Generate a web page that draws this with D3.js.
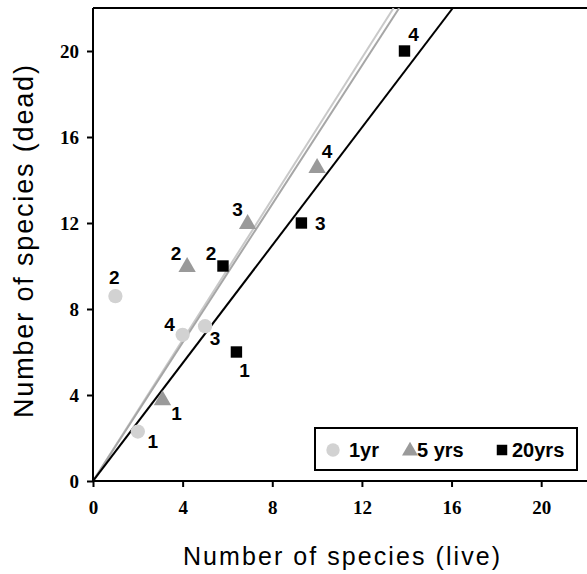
<!DOCTYPE html>
<html><head><meta charset="utf-8">
<script src="https://cdn.jsdelivr.net/npm/d3@7"></script>
<style>body{margin:0;background:#fff}svg{display:block}</style>
</head><body>
<svg id="c" width="587" height="574"></svg>
<script>
const seriesNames = ["1yr", "5 yrs", "20yrs"];
const liveX1yr = [2.0, 1.0, 5.0, 4.0];
const deadY1yr = [2.3, 8.6, 7.2, 6.8];
const labels1yr = ["1", "2", "3", "4"];
const liveX5yrs = [3.1, 4.2, 6.9, 10.0];
const deadY5yrs = [3.8, 10.0, 12.0, 14.6];
const labels5yrs = ["1", "2", "3", "4"];
const liveX20yrs = [6.4, 5.8, 9.3, 13.9];
const deadY20yrs = [6.0, 10.0, 12.0, 20.0];
const labels20yrs = ["1", "2", "3", "4"];
const slopes = [1.64, 1.61, 1.37];
const xTicks = [0, 4, 8, 12, 16, 20];
const yTicks = [0, 4, 8, 12, 16, 20];

// label offsets (px) -- styling only
const lblOff = [
  [[15, 10], [-1, -19], [10, 12], [-13, -10]],
  [[14, 14], [-11, -13], [-10, -14], [10, -16]],
  [[8, 18], [-12, -13], [19, 0], [9, -17]]
];
const colors = ["#d2d2d2", "#9a9a9a", "#000000"];
const lineColors = ["#c9c9c9", "#a6a6a6", "#000000"];

const svg = d3.select("#c");
const L = 93, T = 8, R = 586, B = 481;
const x = d3.scaleLinear().domain([0, 22]).range([L, R]);
const y = d3.scaleLinear().domain([0, 22]).range([B, T]);

svg.append("line").attr("x1", L).attr("x2", 587).attr("y1", T).attr("y2", T)
  .attr("stroke", "#000").attr("stroke-width", 2);

svg.append("clipPath").attr("id", "pc").append("rect")
  .attr("x", L).attr("y", T).attr("width", R - L + 2).attr("height", B - T);

const lg = svg.append("g").attr("clip-path", "url(#pc)");
slopes.forEach((s, i) => {
  const xe = 22 / s;
  lg.append("line").attr("x1", x(0)).attr("y1", y(0)).attr("x2", x(xe)).attr("y2", y(22))
    .attr("stroke", lineColors[i]).attr("stroke-width", 2);
});

const xAxis = d3.axisBottom(x).tickValues(xTicks).tickSize(6).tickSizeOuter(0).tickPadding(14);
const yAxis = d3.axisLeft(y).tickValues(yTicks).tickSize(6).tickSizeOuter(0).tickPadding(8);
const xa = svg.append("g").attr("transform", `translate(0,${B})`).call(xAxis);
const ya = svg.append("g").attr("transform", `translate(${L},0)`).call(yAxis);
[xa, ya].forEach(a => {
  a.select(".domain").attr("stroke", "#000").attr("stroke-width", 2);
  a.selectAll(".tick line").attr("stroke", "#000").attr("stroke-width", 2);
  a.selectAll(".tick text").attr("font-family", "Liberation Serif, Times New Roman, serif")
    .attr("font-weight", "bold").attr("font-size", 19).attr("fill", "#000");
});
xa.select(".domain").attr("d", `M${L},0H587`);
ya.select(".domain").attr("d", `M0,${T}V${B}`);
ya.selectAll(".tick text").attr("dy", "0.35em");

const sets = [
  {xs: liveX1yr, ys: deadY1yr, lb: labels1yr},
  {xs: liveX5yrs, ys: deadY5yrs, lb: labels5yrs},
  {xs: liveX20yrs, ys: deadY20yrs, lb: labels20yrs}
];
const shapes = [d3.symbolCircle, d3.symbolTriangle, d3.symbolSquare];
const sizes = [160, 130, 130];
const pg = svg.append("g");
sets.forEach((s, i) => {
  s.xs.forEach((xv, j) => {
    const px = x(xv), py = y(s.ys[j]);
    pg.append("path").attr("d", d3.symbol().type(shapes[i]).size(sizes[i])())
      .attr("transform", `translate(${px},${py + (i === 1 ? 1 : 0)})`).attr("fill", colors[i]);
    pg.append("text").attr("x", px + lblOff[i][j][0]).attr("y", py + lblOff[i][j][1])
      .attr("dy", "0.35em").attr("text-anchor", "middle")
      .attr("font-family", "Liberation Sans, Arial, sans-serif").attr("font-weight", "bold")
      .attr("font-size", 19).attr("fill", "#000").text(s.lb[j]);
  });
});

const lgd = svg.append("g");
lgd.append("rect").attr("x", 315).attr("y", 428).attr("width", 262).attr("height", 42)
  .attr("fill", "#fff").attr("stroke", "#000").attr("stroke-width", 2);
const legX = [333, 410, 502];
const legTX = [349, 417, 512];
seriesNames.forEach((n, i) => {
  lgd.append("path").attr("d", d3.symbol().type(shapes[i]).size(i === 0 ? 140 : 110)())
    .attr("transform", `translate(${legX[i]},${450 + (i === 1 ? 1 : 0)})`).attr("fill", colors[i]);
  lgd.append("text").attr("x", legTX[i]).attr("y", 457)
    .attr("font-family", "Liberation Sans, Arial, sans-serif").attr("font-weight", "bold")
    .attr("font-size", 20).attr("fill", "#000").text(n);
});

svg.append("text").attr("x", 183).attr("y", 565)
  .attr("textLength", 317).attr("lengthAdjust", "spacing")
  .attr("font-family", "Liberation Sans, Arial, sans-serif").attr("font-size", 25)
  .attr("fill", "#000").text("Number of species (live)");
svg.append("text").attr("transform", "translate(33,418) rotate(-90)")
  .attr("textLength", 353).attr("lengthAdjust", "spacing")
  .attr("font-family", "Liberation Sans, Arial, sans-serif").attr("font-size", 27)
  .attr("fill", "#000").text("Number of species (dead)");
</script>
</body></html>
